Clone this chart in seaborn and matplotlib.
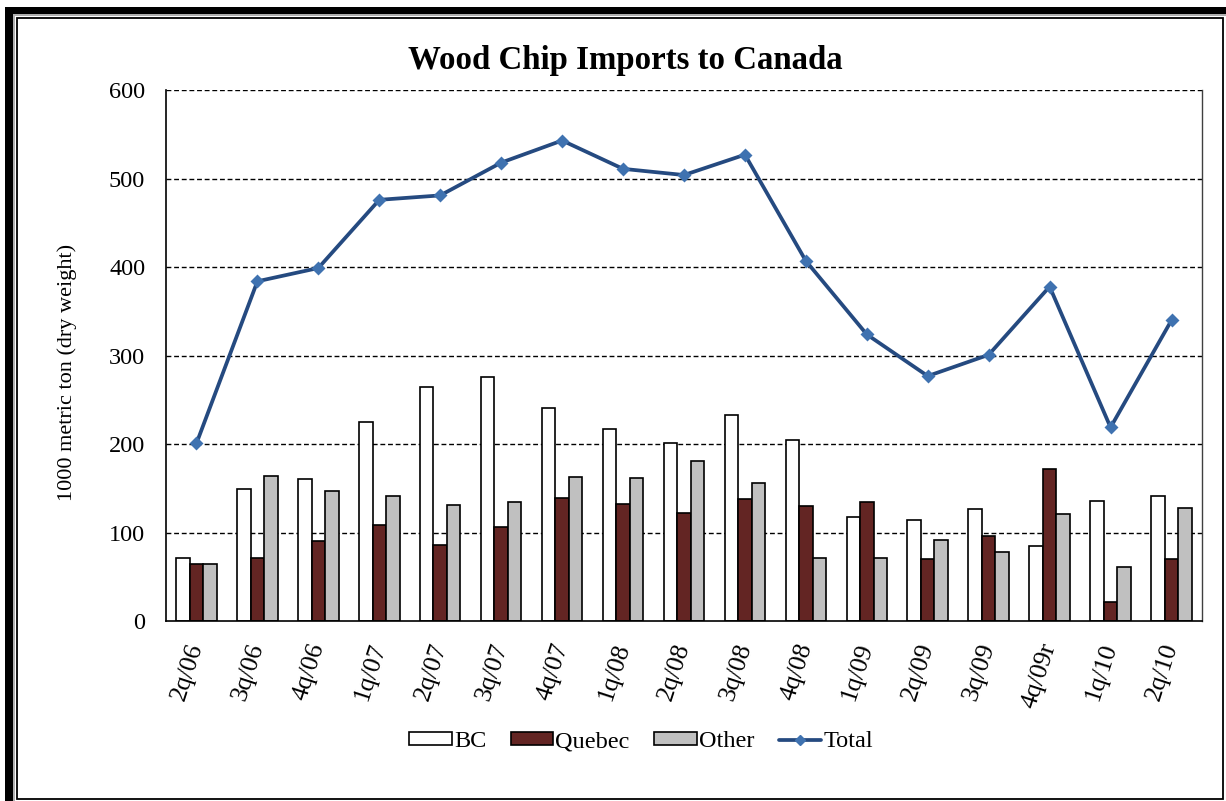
import matplotlib
matplotlib.use("Agg")
import matplotlib.pyplot as plt
from matplotlib.patches import Rectangle, Patch
from matplotlib.lines import Line2D
from matplotlib.transforms import IdentityTransform
import seaborn as sns
import pandas as pd

# Quarterly wood chip imports, 1000 metric tons (dry weight)
quarters = ["2q/06", "3q/06", "4q/06", "1q/07", "2q/07", "3q/07", "4q/07", "1q/08",
            "2q/08", "3q/08", "4q/08", "1q/09", "2q/09", "3q/09", "4q/09r", "1q/10", "2q/10"]
bc = [71, 149, 161, 225, 265, 276, 241, 217, 201, 233, 205, 118, 115, 127, 85, 136, 142]
quebec = [65, 71, 91, 109, 86, 107, 139, 132, 122, 138, 130, 135, 70, 96, 172, 22, 70]
other = [65, 164, 147, 142, 131, 135, 163, 162, 181, 156, 72, 71, 92, 78, 121, 61, 128]
total = [201, 384, 399, 476, 481, 518, 543, 511, 504, 527, 407, 324, 277, 301, 378, 219, 340]
regions = ["BC", "Quebec", "Other"]

colors = {"BC": "#FFFFFF", "Quebec": "#632523", "Other": "#C0C0C0"}
line_color = "#254A80"
marker_color = "#3F72B0"

sns.set_theme(style="white")
plt.rcParams["font.family"] = ["Liberation Serif", "DejaVu Serif"]
plt.rcParams.update({"text.color": "black", "axes.labelcolor": "black",
                     "xtick.color": "black", "ytick.color": "black"})

bars = pd.DataFrame({
    "quarter": quarters * 3,
    "region": [r for r in regions for _ in quarters],
    "value": bc + quebec + other,
})

fig = plt.figure(figsize=(12.26, 8.01), dpi=100)
ax = fig.add_axes([0.1354, 0.2243, 0.8450, 0.6633])

sns.barplot(data=bars, x="quarter", y="value", hue="region", order=quarters,
            hue_order=regions, palette=colors, width=0.665, gap=0,
            edgecolor="black", linewidth=1.2, saturation=1, legend=False, ax=ax)

sns.pointplot(x=quarters, y=total, order=quarters, color=line_color, markers="D",
              linestyles="-", linewidth=2.7, markersize=5,
              markerfacecolor=marker_color, markeredgecolor=marker_color,
              ax=ax)

ax.set_xlim(-0.5, len(quarters) - 0.5)
ax.set_ylim(0, 600)
ax.set_yticks(range(0, 601, 100))
ax.set_xlabel("")
ax.set_ylabel("")

# Dashed horizontal gridlines
for yv in range(100, 601, 100):
    ax.axhline(yv, color="black", linestyle=(0, (3.5, 2)), linewidth=1.0, zorder=0.5)

# Category boundary ticks on the x axis
ax.set_xticks([i - 0.5 for i in range(len(quarters) + 1)], minor=True)
ax.tick_params(axis="x", which="minor", length=6, width=1.1, direction="out", color="black")
ax.tick_params(axis="x", which="major", length=0, pad=16)
ax.set_xticks(range(len(quarters)))
ax.set_xticklabels(quarters, rotation=72, ha="right", va="center",
                   rotation_mode="anchor", fontsize=18.5, color="black")
ax.tick_params(axis="y", which="major", length=6, width=1.1, direction="out",
               color="black", labelsize=17.5, pad=9, labelcolor="black")

for side in ["left", "bottom"]:
    ax.spines[side].set_color("black")
    ax.spines[side].set_linewidth(1.2)
ax.spines["right"].set_color("#404040")
ax.spines["right"].set_linewidth(1.0)
ax.spines["top"].set_visible(False)

fig.text(0.51, 0.925, "Wood Chip Imports to Canada", ha="center", va="center",
         fontsize=23.7, fontweight="bold", color="black")
fig.text(0.055, 1 - 372 / 801, "1000 metric ton (dry weight)", rotation=90,
         ha="center", va="center", fontsize=16, color="black")

handles = [Patch(facecolor=colors[r], edgecolor="black", linewidth=1.2) for r in regions]
handles.append(Line2D([], [], color=line_color, linewidth=2.7, marker="D", markersize=5,
                      markerfacecolor=marker_color, markeredgecolor=marker_color))
fig.legend(handles, regions + ["Total"], loc="center", bbox_to_anchor=(0.523, 0.0737),
           ncol=4, frameon=False, fontsize=17.5, handlelength=1.75, handleheight=0.45,
           handletextpad=0.1, columnspacing=1.0, labelcolor="black")

# Page frame: thick outer border on the left/top and a thin inner border
H = 801
ident = IdentityTransform()
fig.add_artist(Rectangle((5, 0), 8, H - 7, transform=ident, facecolor="black", edgecolor="none"))
fig.add_artist(Rectangle((5, H - 14), 1226, 7, transform=ident, facecolor="black", edgecolor="none"))
fig.add_artist(Rectangle((13, 0), 2, H - 14, transform=ident, facecolor="#B0B0B0", edgecolor="none"))
fig.add_artist(Rectangle((13, H - 16), 1226, 2, transform=ident, facecolor="#B0B0B0", edgecolor="none"))
fig.add_artist(Rectangle((16.5, 2), 1206.5, H - 20, transform=ident, facecolor="none",
                         edgecolor="black", linewidth=1.3))

fig.savefig("out.png", dpi=100)
